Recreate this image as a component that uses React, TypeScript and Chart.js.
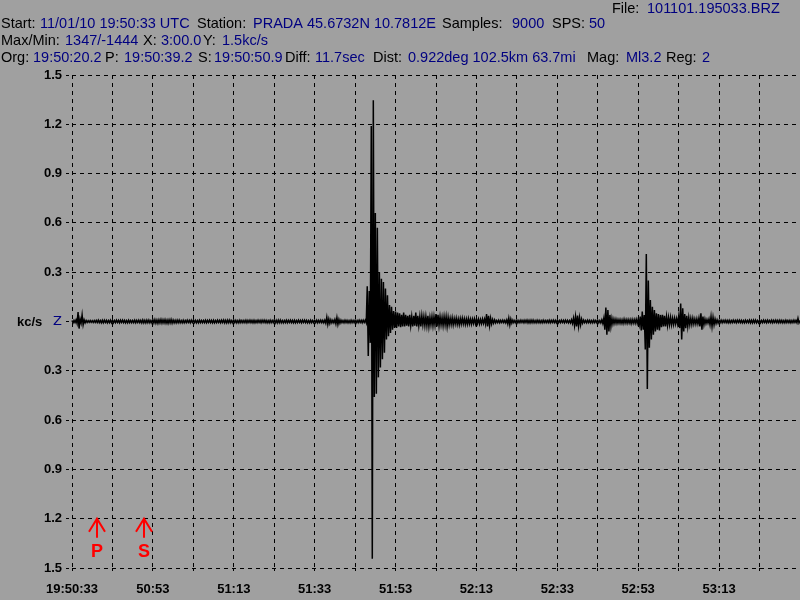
import React, { useEffect, useRef } from 'react';
import { Chart, registerables } from 'chart.js';

Chart.register(...registerables);

// ---------- data ----------
const timeTickLabels = ['19:50:33', '50:53', '51:13', '51:33', '51:53', '52:13', '52:33', '52:53', '53:13'];
const amplitudeTickLabels = ['1.5', '1.2', '0.9', '0.6', '0.3', 'Z', '0.3', '0.6', '0.9', '1.2', '1.5'];
const unitLabel = 'kc/s';
const sampleStepSec = 0.25;
// amplitude in kc/s, one sample every 0.25 s
const traceValues = [
  0.006, -0.008, 0.007, -0.006, 0.010, -0.012, 0.057, -0.043, 0.015, -0.010,
  0.040, -0.020, 0.010, -0.008, 0.006, -0.006, 0.005, -0.005, 0.006, -0.005,
  0.005, -0.006, 0.006, -0.005, 0.007, -0.006, 0.008, -0.007, 0.006, -0.008,
  0.007, -0.008, 0.008, -0.006, 0.007, -0.008, 0.006, -0.007, 0.008, -0.008,
  0.007, -0.008, 0.006, -0.007, 0.008, -0.006, 0.007, -0.008, 0.008, -0.006,
  0.008, -0.007, 0.007, -0.008, 0.006, -0.008, 0.008, -0.007, 0.006, -0.007,
  0.006, -0.007, 0.008, -0.008, 0.007, -0.006, 0.008, -0.007, 0.007, -0.008,
  0.009, -0.008, 0.007, -0.009, 0.008, -0.007, 0.009, -0.008, 0.006, -0.008,
  0.010, -0.009, 0.011, -0.010, 0.009, -0.011, 0.010, -0.009, 0.012, -0.010,
  0.010, -0.009, 0.011, -0.010, 0.009, -0.011, 0.010, -0.009, 0.012, -0.010,
  0.009, -0.008, 0.007, -0.009, 0.008, -0.007, 0.009, -0.008, 0.006, -0.008,
  0.007, -0.008, 0.006, -0.007, 0.008, -0.006, 0.007, -0.008, 0.008, -0.006,
  0.008, -0.007, 0.007, -0.008, 0.006, -0.008, 0.008, -0.007, 0.006, -0.007,
  0.006, -0.007, 0.008, -0.008, 0.007, -0.006, 0.008, -0.007, 0.007, -0.008,
  0.007, -0.008, 0.006, -0.007, 0.008, -0.006, 0.007, -0.008, 0.008, -0.006,
  0.009, -0.008, 0.007, -0.009, 0.008, -0.007, 0.009, -0.008, 0.006, -0.008,
  0.008, -0.007, 0.007, -0.008, 0.006, -0.008, 0.008, -0.007, 0.006, -0.007,
  0.006, -0.007, 0.008, -0.008, 0.007, -0.006, 0.008, -0.007, 0.007, -0.008,
  0.007, -0.008, 0.006, -0.007, 0.008, -0.006, 0.007, -0.008, 0.008, -0.006,
  0.008, -0.007, 0.007, -0.008, 0.006, -0.008, 0.008, -0.007, 0.006, -0.007,
  0.009, -0.008, 0.007, -0.009, 0.008, -0.007, 0.009, -0.008, 0.006, -0.008,
  0.006, -0.007, 0.008, -0.008, 0.007, -0.006, 0.008, -0.007, 0.007, -0.008,
  0.007, -0.008, 0.006, -0.007, 0.008, -0.006, 0.007, -0.008, 0.008, -0.006,
  0.008, -0.007, 0.007, -0.008, 0.006, -0.008, 0.008, -0.007, 0.006, -0.007,
  0.006, -0.007, 0.008, -0.008, 0.007, -0.006, 0.008, -0.007, 0.007, -0.008,
  0.008, -0.010, 0.026, -0.018, 0.015, -0.012, 0.010, -0.008, 0.007, -0.008,
  0.012, -0.014, 0.024, -0.018, 0.012, -0.010, 0.008, -0.007, 0.006, -0.008,
  0.008, -0.007, 0.007, -0.008, 0.006, -0.008, 0.008, -0.007, 0.006, -0.007,
  0.007, -0.008, 0.006, -0.007, 0.008, -0.006, 0.007, -0.008, 0.008, -0.006,
  0.008, -0.008, 0.215, -0.210, 0.185, -0.130, 1.190, -1.444, 1.347, -0.460,
  0.660, -0.440, 0.570, -0.340, 0.300, -0.280, 0.260, -0.230, 0.240, -0.190,
  0.200, -0.110, 0.160, -0.090, 0.100, -0.070, 0.090, -0.050, 0.063, -0.040,
  0.060, -0.040, 0.055, -0.030, 0.050, -0.035, 0.040, -0.030, 0.055, -0.030,
  0.040, -0.025, 0.035, -0.030, 0.040, -0.025, 0.030, -0.030, 0.035, -0.025,
  0.055, -0.030, 0.035, -0.025, 0.030, -0.030, 0.035, -0.020, 0.030, -0.025,
  0.030, -0.025, 0.035, -0.030, 0.025, -0.020, 0.030, -0.025, 0.030, -0.020,
  0.045, -0.030, 0.040, -0.025, 0.030, -0.020, 0.025, -0.025, 0.030, -0.020,
  0.030, -0.030, 0.025, -0.020, 0.020, -0.018, 0.022, -0.020, 0.018, -0.015,
  0.020, -0.018, 0.015, -0.020, 0.018, -0.015, 0.020, -0.015, 0.016, -0.018,
  0.015, -0.016, 0.018, -0.015, 0.014, -0.016, 0.015, -0.012, 0.016, -0.014,
  0.015, -0.012, 0.014, -0.015, 0.012, -0.013, 0.015, -0.012, 0.014, -0.016,
  0.045, -0.030, 0.035, -0.025, 0.020, -0.015, 0.012, -0.010, 0.010, -0.008,
  0.006, -0.007, 0.008, -0.008, 0.007, -0.006, 0.008, -0.007, 0.007, -0.008,
  0.010, -0.015, 0.020, -0.020, 0.015, -0.010, 0.008, -0.007, 0.006, -0.008,
  0.007, -0.008, 0.006, -0.007, 0.008, -0.006, 0.007, -0.008, 0.008, -0.006,
  0.009, -0.008, 0.007, -0.009, 0.008, -0.007, 0.009, -0.008, 0.006, -0.008,
  0.008, -0.007, 0.007, -0.008, 0.006, -0.008, 0.008, -0.007, 0.006, -0.007,
  0.006, -0.007, 0.008, -0.008, 0.007, -0.006, 0.008, -0.007, 0.007, -0.008,
  0.007, -0.008, 0.006, -0.007, 0.008, -0.006, 0.007, -0.008, 0.008, -0.006,
  0.007, -0.008, 0.006, -0.008, 0.010, -0.012, 0.020, -0.025, 0.030, -0.030,
  0.036, -0.028, 0.025, -0.020, 0.015, -0.010, 0.008, -0.007, 0.006, -0.008,
  0.008, -0.007, 0.007, -0.008, 0.006, -0.008, 0.008, -0.007, 0.006, -0.007,
  0.007, -0.008, 0.006, -0.008, 0.010, -0.012, 0.020, -0.050, 0.085, -0.080,
  0.070, -0.060, 0.040, -0.030, 0.020, -0.015, 0.015, -0.012, 0.014, -0.012,
  0.012, -0.010, 0.012, -0.012, 0.010, -0.012, 0.014, -0.010, 0.012, -0.011,
  0.012, -0.010, 0.011, -0.013, 0.012, -0.010, 0.012, -0.011, 0.013, -0.012,
  0.015, -0.020, 0.030, -0.055, 0.060, -0.050, 0.040, -0.170, 0.410, -0.410,
  0.250, -0.160, 0.130, -0.110, 0.090, -0.080, 0.070, -0.060, 0.050, -0.050,
  0.045, -0.055, 0.040, -0.035, 0.040, -0.030, 0.035, -0.030, 0.030, -0.025,
  0.025, -0.020, 0.025, -0.020, 0.020, -0.018, 0.020, -0.015, 0.018, -0.015,
  0.030, -0.040, 0.110, -0.110, 0.080, -0.060, 0.045, -0.040, 0.035, -0.030,
  0.025, -0.020, 0.020, -0.018, 0.020, -0.015, 0.015, -0.015, 0.016, -0.014,
  0.020, -0.030, 0.050, -0.050, 0.030, -0.020, 0.015, -0.012, 0.012, -0.010,
  0.015, -0.020, 0.030, -0.030, 0.025, -0.020, 0.015, -0.012, 0.010, -0.010,
  0.006, -0.007, 0.008, -0.008, 0.007, -0.006, 0.008, -0.007, 0.007, -0.008,
  0.007, -0.008, 0.006, -0.007, 0.008, -0.006, 0.007, -0.008, 0.008, -0.006,
  0.008, -0.007, 0.007, -0.008, 0.006, -0.008, 0.008, -0.007, 0.006, -0.007,
  0.009, -0.008, 0.007, -0.009, 0.008, -0.007, 0.009, -0.008, 0.006, -0.008,
  0.007, -0.008, 0.006, -0.007, 0.008, -0.006, 0.007, -0.008, 0.008, -0.006,
  0.006, -0.007, 0.008, -0.008, 0.007, -0.006, 0.008, -0.007, 0.007, -0.008,
  0.008, -0.007, 0.007, -0.008, 0.006, -0.008, 0.008, -0.007, 0.006, -0.007,
  0.007, -0.008, 0.006, -0.007, 0.008, -0.006, 0.007, -0.008, 0.020, -0.008,
  0.006,
];
const phaseLabels = ['P', 'S'];
const phaseTimesSec = [6.2, 17.9];

const headerFile = [['File:', '101101.195033.BRZ']];
const headerStart = [
  ['Start:', '11/01/10 19:50:33 UTC'],
  ['Station:', 'PRADA 45.6732N 10.7812E'],
  ['Samples:', '9000'],
  ['SPS:', '50'],
];
const headerMax = [
  ['Max/Min:', '1347/-1444'],
  ['X:', '3:00.0'],
  ['Y:', '1.5kc/s'],
];
const headerOrg = [
  ['Org:', '19:50:20.2'],
  ['P:', '19:50:39.2'],
  ['S:', '19:50:50.9'],
  ['Diff:', '11.7sec'],
  ['Dist:', '0.922deg 102.5km 63.7mi'],
  ['Mag:', 'Ml3.2'],
  ['Reg:', '2'],
];

// ---------- layout ----------
const headerLayout = [
  { rows: headerFile, baseline: 13, xs: [[612, 647]] },
  { rows: headerStart, baseline: 28, xs: [[1, 40], [197, 253], [442, 512], [552, 589]] },
  { rows: headerMax, baseline: 45, xs: [[1, 65], [143, 161], [203, 222]] },
  { rows: headerOrg, baseline: 62, xs: [[1, 33], [105, 124], [198, 214], [285, 315], [373, 408], [587, 626], [666, 702]] },
];

const overlayPlugin = {
  id: 'overlay',
  afterDraw(chart: any) {
    const ctx = chart.ctx as CanvasRenderingContext2D;
    const xs = chart.scales.x;
    const ys = chart.scales.y;
    ctx.save();
    ctx.textAlign = 'left';
    ctx.textBaseline = 'alphabetic';
    ctx.font = '14.5px "Liberation Sans"';
    headerLayout.forEach((line) => {
      line.rows.forEach(([label, value], k) => {
        ctx.fillStyle = '#000000';
        ctx.fillText(label, line.xs[k][0], line.baseline);
        ctx.fillStyle = '#000080';
        ctx.fillText(value, line.xs[k][1], line.baseline);
      });
    });

    ctx.font = 'bold 13px "Liberation Sans"';
    ctx.fillStyle = '#000000';
    ctx.fillText(unitLabel, 17, ys.getPixelForValue(0) + 4.5);

    ctx.strokeStyle = '#ff0000';
    ctx.fillStyle = '#ff0000';
    ctx.lineWidth = 2;
    const tip = ys.getPixelForValue(-1.2);
    phaseLabels.forEach((lab, k) => {
      const px = Math.round(xs.getPixelForValue(phaseTimesSec[k]));
      ctx.beginPath();
      ctx.moveTo(px, tip);
      ctx.lineTo(px, tip + 19);
      ctx.moveTo(px - 8, tip + 13);
      ctx.lineTo(px, tip);
      ctx.lineTo(px + 8, tip + 13);
      ctx.stroke();
      ctx.font = 'bold 18px "Liberation Sans"';
      ctx.textAlign = 'center';
      ctx.fillText(lab, px, tip + 38);
    });
    ctx.restore();
  },
};

export default function App() {
  const ref = useRef<HTMLCanvasElement>(null);
  useEffect(() => {
    const canvas = ref.current;
    if (!canvas) return;
    const points = traceValues.map((v, i) => ({ x: i * sampleStepSec, y: v }));
    const chart = new Chart(canvas, {
      type: 'line',
      data: {
        datasets: [
          {
            data: points,
            borderColor: '#000000',
            borderWidth: 1.5,
            pointRadius: 0,
            pointHoverRadius: 0,
            pointHitRadius: 0,
            tension: 0,
            fill: false,
            clip: false,
          },
        ],
      },
      options: {
        animation: false,
        responsive: false,
        maintainAspectRatio: false,
        events: [],
        layout: { autoPadding: false, padding: { top: 75, left: 0, right: 0, bottom: 0 } },
        plugins: {
          legend: { display: false },
          tooltip: { enabled: false },
          title: { display: false },
        },
        scales: {
          x: {
            type: 'linear',
            min: 0,
            max: 180,
            afterFit: (s: any) => {
              s.height = 32;
              s.paddingRight = 0;
              s.paddingLeft = 0;
            },
            ticks: {
              stepSize: 10,
              autoSkip: false,
              maxRotation: 0,
              minRotation: 0,
              padding: 9,
              color: '#000000',
              font: { family: 'Liberation Sans', size: 13, weight: 'bold' },
              callback: (_v: any, i: number) => (i % 2 === 0 ? timeTickLabels[i / 2] ?? '' : ''),
            },
            grid: { color: '#000000', lineWidth: 1, tickLength: 5, tickBorderDash: [3, 3] },
            border: { display: false, dash: [4, 4] },
          },
          y: {
            type: 'linear',
            min: -1.5,
            max: 1.5,
            afterFit: (s: any) => {
              s.width = 72;
            },
            ticks: {
              stepSize: 0.3,
              autoSkip: false,
              padding: 4,
              color: (c: any) => (c.tick && c.tick.value === 0 ? '#000080' : '#000000'),
              font: (c: any) =>
                c.tick && c.tick.value === 0
                  ? { family: 'DejaVu Sans', size: 13 }
                  : { family: 'Liberation Sans', size: 13, weight: 'bold' },
              callback: (_v: any, i: number) => amplitudeTickLabels[i] ?? '',
            },
            grid: { color: '#000000', lineWidth: 1, tickLength: 6, tickBorderDash: [3, 3] },
            border: { display: false, dash: [4, 4] },
          },
        },
      },
      plugins: [overlayPlugin],
    } as any);
    return () => chart.destroy();
  }, []);
  return (
    <div style={{ position: 'fixed', left: 0, top: 0, width: 800, height: 600, background: '#a0a0a0' }}>
      <canvas ref={ref} width={800} height={600} style={{ display: 'block', width: 800, height: 600 }} />
    </div>
  );
}
